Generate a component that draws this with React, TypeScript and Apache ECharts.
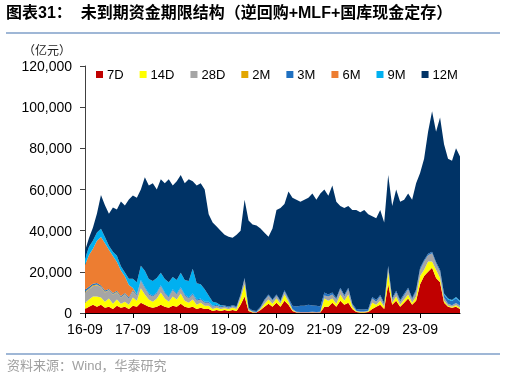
import React, { useEffect, useRef } from "react";
import * as echarts from "echarts";

// Monthly categories 2016-09 .. 2024-07
const months: string[] = [];
for (let i = 0; i < 95; i++) {
  const y = 16 + Math.floor((8 + i) / 12);
  const m = ((8 + i) % 12) + 1;
  months.push(`${y}-${String(m).padStart(2, "0")}`);
}

const yTicks = [0, 20000, 40000, 60000, 80000, 100000, 120000];

const d7 = [2000,3000,4000,3000,4000,2500,3000,2000,3500,2500,3000,2000,3500,
 3000,5000,4000,3000,2500,3000,4000,3000,2500,3500,3000,4500,3000,2500,3000,2000,2500,2000,
 2000,1000,1500,1000,1500,1000,1500,1000,4000,8000,1000,300,200,1500,3000,4500,3000,
 5000,3000,6000,4000,1000,300,200,200,200,300,200,300,3000,
 3000,5000,3000,6000,4000,5000,2000,500,300,300,500,2000,
 3000,4000,2000,14000,4000,6000,3000,5000,7000,4000,6000,
 14000,18000,20000,22000,17000,15000,5000,3000,2500,3000,2000];

const d14 = [3000,3500,4000,5000,3500,3000,4000,2500,3000,2000,2500,2000,4000,
 3000,7000,5000,3500,3000,4000,6000,4000,3000,4500,3500,5000,3000,2500,3500,2000,2500,1500,
 1500,1000,1000,1000,800,800,1000,1000,3000,6000,500,200,100,500,1500,2000,1500,
 2000,1500,3000,1500,500,100,100,100,100,100,100,100,4000,
 3000,2000,1500,3000,2000,4000,1000,300,200,200,300,3000,
 1000,2000,1000,6000,1000,2000,1000,1500,2000,1000,2000,
 4000,3000,5000,3000,4000,2000,1000,500,500,800,500];

const d28 = [5000,5000,5000,5500,5000,4500,4000,4500,3500,3000,3500,3000,3000,
 2500,3500,3000,2500,2500,2500,3000,2500,2000,3000,2500,2500,2500,2000,2500,2000,1500,1500,
 1500,1000,1000,800,800,800,800,800,1500,2500,500,200,200,500,1500,2000,1500,
 1500,1000,1500,1000,500,200,200,200,200,200,200,200,1500,
 2000,2000,2000,2500,2000,2500,1000,300,200,200,300,2000,
 1500,2000,1000,2000,1500,2000,1500,2000,2500,1500,2500,
 3000,4000,3000,4000,3000,3000,1500,1000,800,1000,1000];

const m2 = [300,400,500,400,300,300,200,200,300,200,200,100,100,
 0,0,0,0,0,0,0,0,0,0,0,0,0,0,0,0,0,0,
 0,0,0,0,0,0,0,0,0,0,0,0,0,0,0,0,0,
 0,0,0,0,0,0,0,0,0,0,0,0,0,
 0,0,0,0,0,0,0,0,0,0,0,0,
 0,0,0,0,0,0,0,0,0,0,0,
 0,0,0,0,0,0,0,0,0,0,0];

const m3 = [1000,800,700,700,600,600,500,500,500,500,500,500,500,
 500,500,500,500,500,500,500,500,500,500,500,500,500,500,500,500,500,500,
 500,500,500,500,500,500,500,500,500,500,500,500,500,500,500,500,500,
 500,500,500,800,1500,2500,3000,3000,3500,3000,3000,2500,1500,
 1000,1000,800,800,800,800,500,800,1000,1000,800,800,
 800,800,800,800,800,800,800,800,800,800,800,
 1000,800,800,800,800,1000,1500,2000,2000,2500,2000];

const m6 = [12000,15500,17000,20500,23500,23000,19000,18000,14000,12500,8000,6000,1000,
 0,0,0,0,0,0,0,0,0,0,0,0,0,0,0,0,0,0,
 0,0,0,0,0,0,0,0,0,0,0,0,0,0,0,0,0,
 0,0,0,0,0,0,0,0,0,0,0,0,0,
 0,0,0,0,0,0,0,0,0,0,0,0,
 0,0,0,0,0,0,0,0,0,0,0,
 0,0,0,0,0,0,0,0,0,0,0];

const m9 = [3000,4000,4000,4000,4000,3000,2000,2000,3000,2000,2000,3000,4500,
 6000,7000,8000,7000,7000,7000,6000,6500,7000,6000,6500,7000,7000,8000,12000,8000,7000,6000,
 3000,2000,1000,500,0,0,0,0,0,0,0,0,0,0,0,0,0,
 0,0,0,0,0,0,0,0,0,0,0,0,0,
 0,0,0,0,0,0,0,0,0,0,0,0,
 0,0,0,0,0,0,0,0,0,0,0,
 0,0,0,0,0,0,500,500,500,500,500];

const m12 = [4000,4200,6300,9300,16400,15400,15500,21500,22500,31500,32500,38500,40500,
 41000,37000,45500,45500,47500,43000,45500,46500,50000,44500,48000,47500,47000,49500,42500,47500,49000,48500,
 39500,38500,37000,36200,34400,33900,32700,34700,31000,38000,42500,41800,41500,38000,32500,28000,34500,
 41000,45000,42000,51700,52500,51900,50500,51500,52000,54400,51500,54900,50000,
 48000,52000,46700,39700,42200,39700,45500,48100,47300,48300,46100,39200,
 39700,41200,39200,44200,44700,49200,47700,45700,45700,47700,51700,
 46000,49200,59200,68200,63200,74000,72500,68000,67700,72200,70000];

const seriesNames = ["7D", "14D", "28D", "2M", "3M", "6M", "9M", "12M"];
const seriesData = [d7, d14, d28, m2, m3, m6, m9, m12];
const seriesColors = ["#C00000", "#FFFF00", "#A5A5A5", "#E3A600", "#1F70C1", "#ED7D31", "#00B0F0", "#003366"];

export default function App() {
  const ref = useRef<HTMLDivElement>(null);
  useEffect(() => {
    if (!ref.current) return;
    const chart = echarts.init(ref.current, null, { renderer: "svg" });
    const latin = "Arial, 'Liberation Sans', 'Noto Sans CJK SC', sans-serif";
    chart.setOption({
      animation: false,
      textStyle: { fontFamily: latin },
      legend: {
        data: seriesNames,
        left: 96,
        top: 68,
        padding: 0,
        itemWidth: 7,
        itemHeight: 7,
        itemGap: 16,
        icon: "rect",
        textStyle: { fontSize: 13, color: "#000", fontFamily: latin, padding: [0, 0, 0, -1] },
      },
      grid: { left: 85, right: 46, top: 66, bottom: 65, containLabel: false },
      xAxis: {
        type: "category",
        data: months,
        boundaryGap: false,
        axisLine: { lineStyle: { color: "#000", width: 1 } },
        axisTick: { interval: (i: number) => i % 12 === 0, length: 5, lineStyle: { color: "#000" } },
        axisLabel: { interval: (i: number) => i % 12 === 0, fontSize: 14, color: "#000", margin: 9 },
        splitLine: { show: false },
      },
      yAxis: {
        type: "value",
        min: yTicks[0],
        max: yTicks[yTicks.length - 1],
        interval: 20000,
        axisLine: { show: true, lineStyle: { color: "#404040", width: 1 } },
        axisTick: { show: true, length: 5, lineStyle: { color: "#404040" } },
        axisLabel: {
          fontSize: 14,
          color: "#000",
          margin: 13,
          formatter: (v: number) => v.toLocaleString("en-US"),
        },
        splitLine: { show: false },
      },
      series: seriesNames.map((n, k) => ({
        name: n,
        type: "line",
        stack: "total",
        data: seriesData[k],
        symbol: "none",
        lineStyle: { width: 0 },
        areaStyle: { color: seriesColors[k], opacity: 1 },
        itemStyle: { color: seriesColors[k] },
        emphasis: { disabled: true },
      })),
      graphic: [
        {
          type: "text",
          left: 6,
          top: 4,
          style: {
            text: "图表31：  未到期资金期限结构（逆回购+MLF+国库现金定存）",
            fontSize: 16,
            fontWeight: "bold",
            fill: "#000",
            fontFamily: "Arial, 'Noto Sans CJK SC', sans-serif",
          },
        },
        { type: "line", shape: { x1: 6, y1: 33, x2: 500, y2: 33 }, style: { stroke: "#7F9FC8", lineWidth: 1.5 } },
        {
          type: "text",
          left: 23,
          top: 43,
          style: { text: "（亿元）", fontSize: 12, fill: "#222", fontFamily: "'Noto Sans CJK SC', sans-serif" },
        },
        { type: "line", shape: { x1: 6, y1: 354, x2: 500, y2: 354 }, style: { stroke: "#7F9FC8", lineWidth: 1.5 } },
        {
          type: "text",
          left: 7,
          top: 359,
          style: { text: "资料来源：Wind，华泰研究", fontSize: 13, fill: "#A0A0A0", fontFamily: "Arial, 'Noto Sans CJK SC', sans-serif" },
        },
      ],
    });
    return () => chart.dispose();
  }, []);
  return <div ref={ref} style={{ position: "fixed", left: 0, top: 0, width: 506, height: 378 }} />;
}
